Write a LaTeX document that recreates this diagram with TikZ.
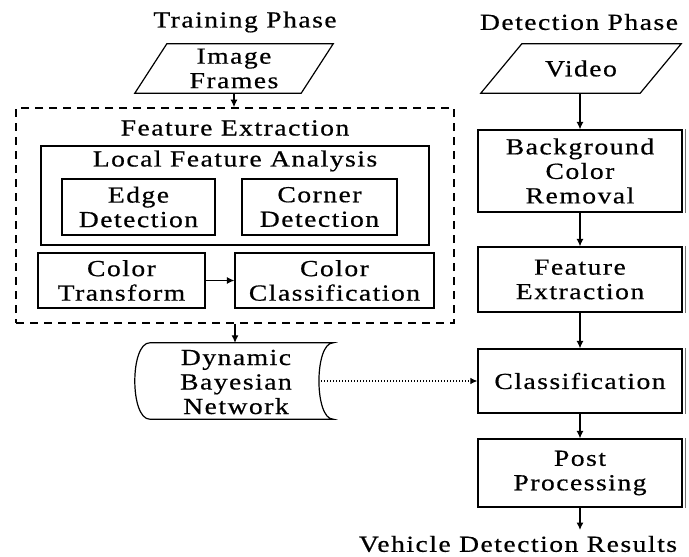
\documentclass[tikz,border=0pt]{standalone}
\usepackage{fontspec}
\setmainfont{Liberation Serif}[LetterSpace=6.5, FakeStretch=1.2, FakeBold=0.6]
\usetikzlibrary{arrows.meta}
\begin{document}
\begin{tikzpicture}[x=1pt,y=-1pt,
  every node/.style={font=\fontsize{23}{24.5}\selectfont, align=center, inner sep=0pt},
  bx/.style={draw, line width=1.2pt},
  edgeline/.style={line width=1.2pt, line join=miter},
  arr/.style={line width=1.2pt, -{Latex[length=7.5pt,width=7pt]}},
  dotarr/.style={line width=1.1pt, dash pattern=on 1.2pt off 1.8pt, -{Latex[length=7pt,width=6.5pt]}},
  dashbox/.style={draw, line width=1.6pt, dash pattern=on 8pt off 6pt},
  shadowline/.style={line width=0.8pt, black!55}]
\useasboundingbox (0,0) rectangle (689,557);

% titles
\node (tp) at (245,22) {Training Phase};
\node (dp) at (579,22) {Detection Phase};

% training phase
\node (img) at (234,68.5) [minimum width=166pt, minimum height=49pt] {Image\\Frames};
\draw[edgeline] ([xshift=-16pt]img.south west) -- ([xshift=-16pt]img.south east)
  -- ([xshift=16pt]img.north east) -- ([xshift=16pt]img.north west) -- cycle;

\node[dashbox] (fe) at (235,215.5) [minimum width=438pt, minimum height=215pt] {};
\node (fet) at (235,128) {Feature Extraction};
\node[bx] (lfa) at (235,195.5) [minimum width=388pt, minimum height=99pt] {};
\node (lfat) at (235,161) {Local Feature Analysis};
\node[bx] (edge) at (138.5,207) [minimum width=153pt, minimum height=56pt] {Edge\\Detection};
\node[bx] (corner) at (319.5,207) [minimum width=155pt, minimum height=56pt] {Corner\\Detection};
\node[bx] (ct) at (121.5,280.5) [minimum width=167pt, minimum height=55pt] {Color\\Transform};
\node[bx] (cc) at (334.5,280.5) [minimum width=199pt, minimum height=55pt] {Color\\Classification};
\draw[arr] (ct) -- (cc);

\draw[arr] (img.south) -- (img.south |- fe.north);

\node (dbn) at (241.5,381) [minimum width=183pt, minimum height=76pt] {};
\draw[edgeline] (dbn.north west) -- (dbn.north east)
  .. controls ([xshift=-19pt]dbn.north east) and ([xshift=-19pt]dbn.south east) .. (dbn.south east)
  -- (dbn.south west)
  .. controls ([xshift=-20pt]dbn.south west) and ([xshift=-20pt]dbn.north west) .. (dbn.north west) -- cycle;
\node (dbnt) at (236,382) {Dynamic\\Bayesian\\Network};
\draw[arr] (fe.south) -- (fe.south |- dbn.north);

% detection phase
\node (vid) at (581,68.5) [minimum width=159pt, minimum height=49pt] {Video};
\draw[edgeline] ([xshift=-20.5pt]vid.south west) -- ([xshift=-20.5pt]vid.south east)
  -- ([xshift=20.5pt]vid.north east) -- ([xshift=20.5pt]vid.north west) -- cycle;

\node[bx] (bcr) at (580,171) [minimum width=204pt, minimum height=82pt] {Background\\Color\\Removal};
\node[bx] (fx) at (580,279.5) [minimum width=204pt, minimum height=65pt] {Feature\\Extraction};
\node[bx] (cls) at (580,381) [minimum width=204pt, minimum height=64pt] {Classification};
\node[bx] (pp) at (580,473) [minimum width=204pt, minimum height=68pt] {Post\\Processing};
\foreach \n in {bcr,fx,cls,pp}
  \draw[shadowline] ([xshift=3pt]\n.north east) -- ([xshift=3pt]\n.south east);
\coordinate (endpt) at (580,530);
\node (res) at (518,544) {Vehicle Detection Results};

\draw[arr] (bcr.north |- vid.south) -- (bcr.north);
\draw[arr] (bcr) -- (fx);
\draw[arr] (fx) -- (cls);
\draw[arr] (cls) -- (pp);
\draw[arr] (pp.south) -- (endpt);

\draw[dotarr] ([xshift=-12pt]dbn.east) -- (cls.west);
\end{tikzpicture}
\end{document}
